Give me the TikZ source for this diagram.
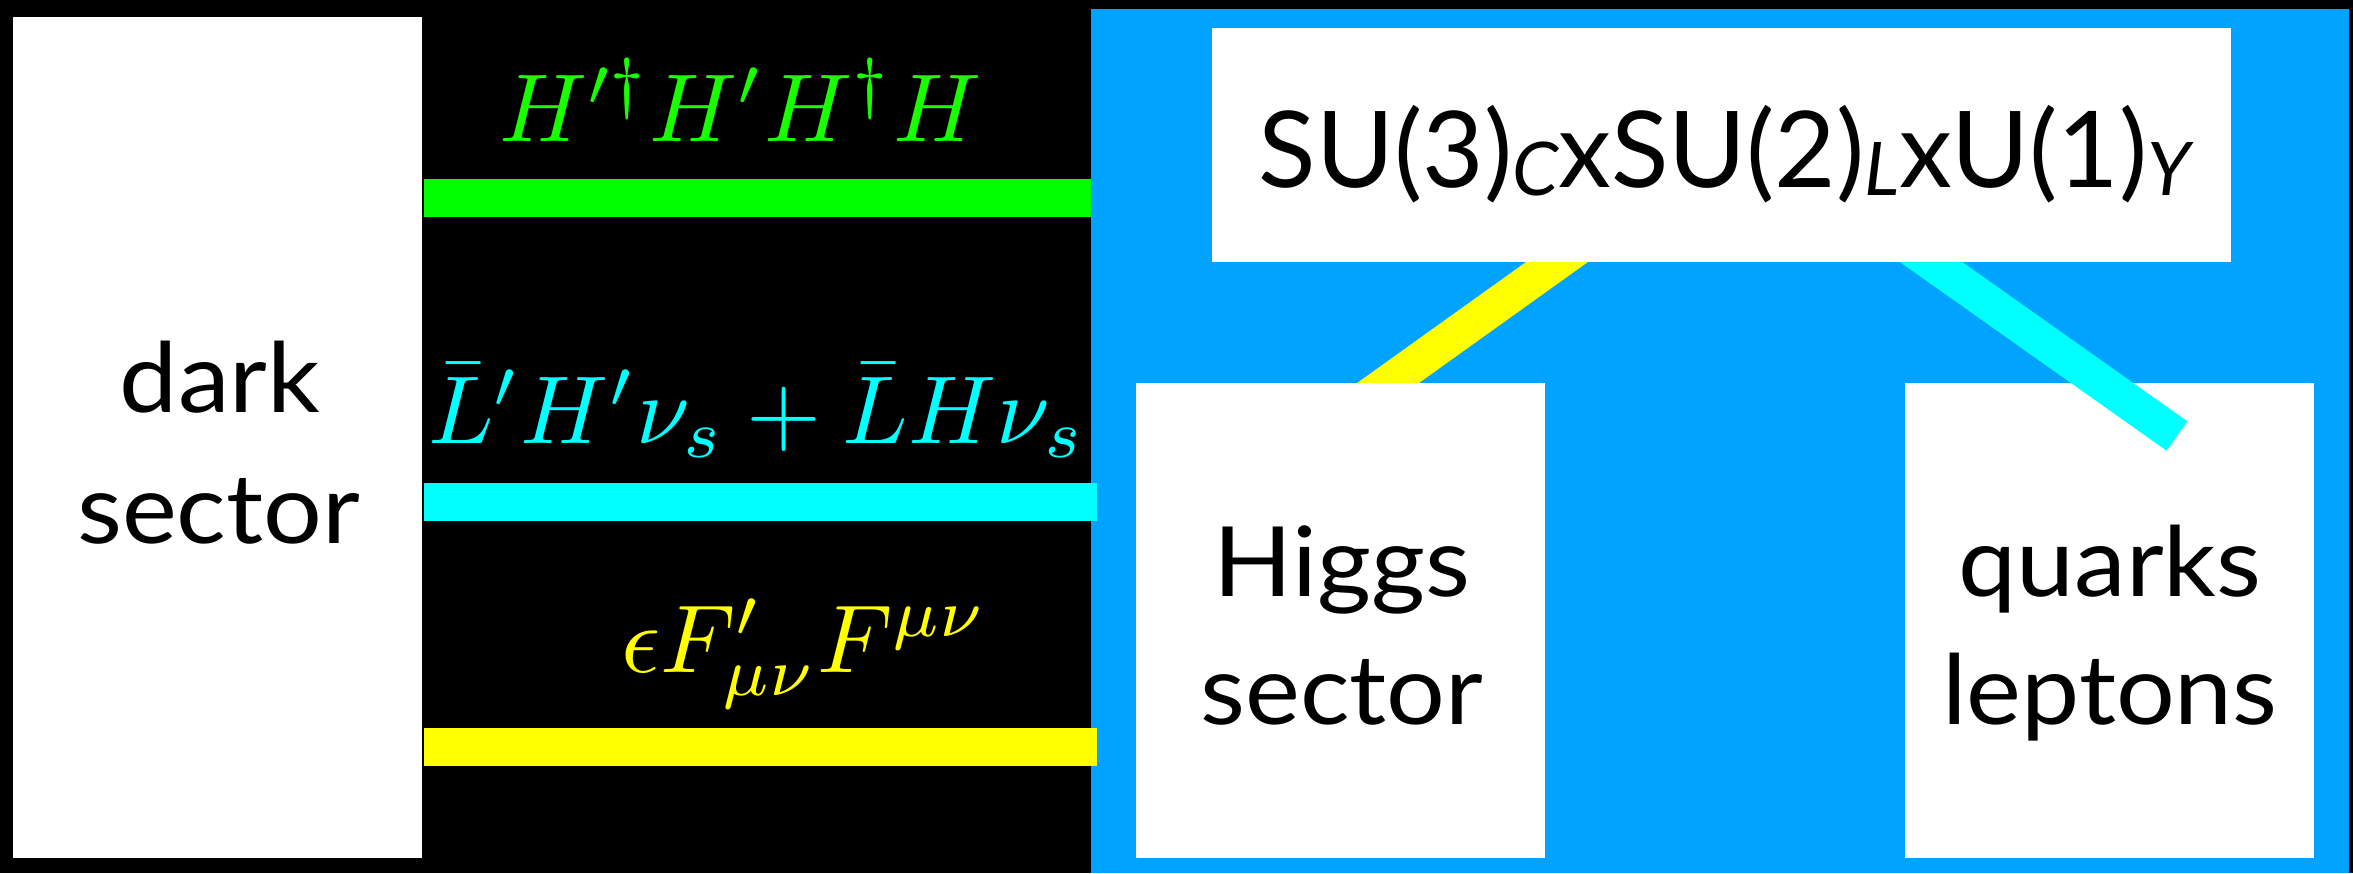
\documentclass[tikz,border=0pt]{standalone}
\usepackage{graphicx}
\usepackage{fontspec}
\setsansfont{Lato}
\newfontfamily\labelfont[FakeStretch=1.07]{Lato}
\definecolor{smblue}{RGB}{0,163,255}
\definecolor{bargreen}{RGB}{0,255,0}
\definecolor{txtgreen}{RGB}{25,255,0}
\definecolor{barcyan}{RGB}{0,255,255}
\definecolor{baryellow}{RGB}{255,255,0}
\pgfdeclarelayer{back}
\pgfdeclarelayer{mid}
\pgfsetlayers{back,mid,main}
\newcommand\grpsub[1]{\raisebox{-8pt}{\fontsize{74}{80}\selectfont\itshape #1}}
\newcommand\bigmath[1]{\scalebox{9.65}{$#1$}}
\begin{document}
\begin{tikzpicture}[x=1pt,y=-1pt,
  box/.style={fill=white, draw=none, inner sep=0pt, outer sep=0pt},
  lbl/.style={font=\labelfont\fontsize{97}{100}\selectfont, inner sep=0pt, anchor=base, text=black},
  formula/.style={inner sep=0pt, anchor=base west},
  bar/.style={line width=38pt},
  diag/.style={line width=36pt},
]
\useasboundingbox (0,0) rectangle (2353,873);

% boxes on the main layer
\node[box, minimum width=409, minimum height=841] (dark) at (217.5,437.5) {};
\node[box, minimum width=1019, minimum height=234] (su) at (1721.5,145) {};
\node[box, minimum width=409, minimum height=475] (higgs) at (1340.5,620.5) {};

\begin{pgfonlayer}{back}
  \fill[black] (0,0) rectangle (2353,873);
  \node[fill=smblue, inner sep=0pt, minimum width=1258, minimum height=864, anchor=north west] (sm) at (1091,9) {};
  \node[box, minimum width=409, minimum height=475] (quarks) at (2109.5,620.5) {};
\end{pgfonlayer}

\coordinate (cyanend) at (2177,436);
\begin{pgfonlayer}{mid}
  \draw[diag, baryellow, shorten <=-40pt, shorten >=-40pt]
    ([xshift=-164.5pt]su.south) -- ([xshift=47.5pt]higgs.north);
  \draw[diag, barcyan, shorten <=-40pt]
    ([xshift=209.5pt]su.south) -- (cyanend);
\end{pgfonlayer}

% coupling bars
\coordinate (gend) at (1091,197.5);
\coordinate (cend) at (1097,502);
\coordinate (yend) at (1097,747);
\draw[bar, bargreen] ([xshift=2pt]dark.east |- gend) -- (gend);
\draw[bar, barcyan] ([xshift=2pt]dark.east |- cend) -- (cend);
\draw[bar, baryellow] ([xshift=2pt]dark.east |- yend) -- (yend);

% formulas
\node[formula, text=txtgreen] (fg) at (499,141) {\bigmath{H'^\dagger H' H^\dagger H}};
\node[formula, text=barcyan] (fc) at (428,443) {\bigmath{\bar L' H' \nu_s + \bar L H \nu_s}};
\node[formula, text=baryellow] (fy) at (621,672) {\bigmath{\epsilon F'_{\mu\nu} F^{\mu\nu}}};

% labels
\node[lbl] (t1) at (220,412) {dark};
\node[lbl] (t2) at (218.5,543) {sector};
\node[lbl] (t3) at (1342,596) {Higgs};
\node[lbl] (t4) at (1342,724) {sector};
\node[lbl] (t5) at (2110,596) {quarks};
\node[lbl] (t6) at (2110,724) {leptons};
\node[lbl, font=\sffamily\fontsize{106}{110}\selectfont] (t7) at (1724.5,187)
  {SU(3)\grpsub{C}xSU(2)\grpsub{L}xU(1)\grpsub{Y}};
\end{tikzpicture}
\end{document}
